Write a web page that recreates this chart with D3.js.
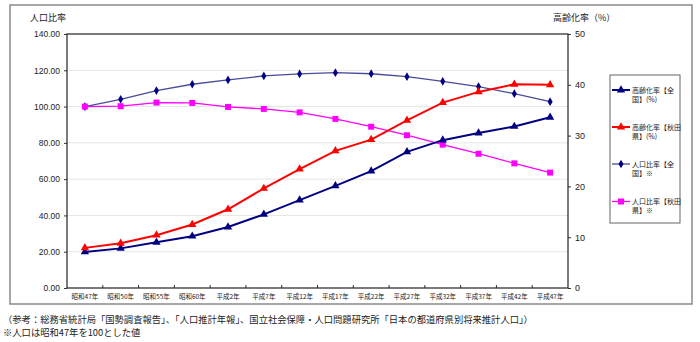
<!DOCTYPE html>
<html><head><meta charset="utf-8">
<script src="https://cdn.jsdelivr.net/npm/d3@7"></script>
<style>
body{margin:0;background:#fff;}
svg{display:block;font-family:"Liberation Sans","Noto Sans CJK JP",sans-serif;}
.jp{font-family:"Noto Sans CJK JP","Liberation Sans",sans-serif;}
</style></head>
<body><svg id="c" width="700" height="342"></svg>
<script>
const categories = ["昭和47年","昭和50年","昭和55年","昭和60年","平成2年","平成7年","平成12年","平成17年","平成22年","平成27年","平成32年","平成37年","平成42年","平成47年"];
const agingNational = [7.1,7.8,9.0,10.2,12.0,14.5,17.3,20.1,23.0,26.8,29.1,30.5,31.8,33.6];
const agingAkita = [7.9,8.8,10.4,12.5,15.5,19.6,23.4,27.0,29.2,33.0,36.5,38.6,40.1,40.0];
const popNational = [100,104.0,108.8,112.3,114.7,116.9,118.0,118.7,118.1,116.5,113.9,111.0,107.1,102.7];
const popAkita = [100,100.2,102.2,102.0,99.8,98.7,96.8,93.2,88.9,84.2,79.0,74.0,68.7,63.6];
const leftTicks = [0,20,40,60,80,100,120,140];
const rightTicks = [0,10,20,30,40,50];
const legendLabels = [["高齢化率【全","国】(%)"],["高齢化率【秋田","県】(%)"],["人口比率【全","国】※"],["人口比率【秋田","県】※"]];
const footnotes = ["（参考：総務省統計局「国勢調査報告」、「人口推計年報」、国立社会保障・人口問題研究所「日本の都道府県別将来推計人口」）","※人口は昭和47年を100とした値"];

const svg = d3.select("#c");
const L=67,R=568,T=34,B=288;
const x = d3.scaleBand().domain(categories).range([L,R]);
const yL = d3.scaleLinear().domain([0,140]).range([B,T]);
const yR = d3.scaleLinear().domain([0,50]).range([B,T]);
const cx = c => x(c)+x.bandwidth()/2;

// outer border
svg.append("rect").attr("x",10).attr("y",5).attr("width",682).attr("height",299)
  .attr("fill","none").attr("stroke","#8a8a8a").attr("stroke-width",1.5);

// gridlines
svg.append("g").selectAll("line").data(leftTicks.filter(d=>d>0&&d<140)).join("line")
  .attr("x1",L).attr("x2",R).attr("y1",d=>yL(d)).attr("y2",d=>yL(d))
  .attr("stroke","#e6e6e6").attr("stroke-width",1);

// axes
const axL = d3.axisLeft(yL).tickValues(leftTicks).tickFormat(d3.format(".2f")).tickSize(3).tickPadding(4);
const gL = svg.append("g").attr("transform",`translate(${L},0)`).call(axL);
const axR = d3.axisRight(yR).tickValues(rightTicks).tickFormat(d3.format("d")).tickSize(3).tickPadding(4);
const gR = svg.append("g").attr("transform",`translate(${R},0)`).call(axR);
const axB = d3.axisBottom(x).tickSize(0).tickPadding(6);
const gB = svg.append("g").attr("transform",`translate(0,${B})`).call(axB);
[gL,gR,gB].forEach(g=>{g.select(".domain").remove();g.selectAll("text").attr("fill","#222");g.selectAll("line").attr("stroke","#333");});
gL.selectAll("text").style("font-size","8.5px");
gR.selectAll("text").style("font-size","9px");
gB.selectAll("text").attr("class","jp").style("font-size","6.5px");
// bottom ticks at category boundaries
svg.append("g").selectAll("line").data(categories.slice(1)).join("line")
  .attr("x1",d=>x(d)).attr("x2",d=>x(d)).attr("y1",B).attr("y2",B-3).attr("stroke","#333");
// plot frame
svg.append("rect").attr("x",L).attr("y",T).attr("width",R-L).attr("height",B-T)
  .attr("fill","none").attr("stroke","#222").attr("stroke-width",1.2);

// titles
svg.append("text").attr("class","jp").attr("x",30).attr("y",21).style("font-size","9px").attr("fill","#222").text("人口比率");
svg.append("text").attr("class","jp").attr("x",553).attr("y",21).style("font-size","9px").attr("fill","#222").text("高齢化率（%）");

const series = [
 {vals:agingNational, y:yR, line:"#000080", mark:"#000080", w:2, shape:d3.symbolTriangle, size:30},
 {vals:agingAkita, y:yR, line:"#ff0000", mark:"#ff0000", w:2, shape:d3.symbolTriangle, size:30},
 {vals:popNational, y:yL, line:"#4a4a9a", mark:"#000080", w:1.3, shape:d3.symbolDiamond, size:22},
 {vals:popAkita, y:yL, line:"#ff00ff", mark:"#ff00ff", w:1.3, shape:d3.symbolSquare, size:36}
];
[2,3,0,1].forEach(i=>{
  const s=series[i];
  const data = categories.map((c,j)=>[cx(c),s.y(s.vals[j])]);
  svg.append("path").attr("d",d3.line()(data)).attr("fill","none").attr("stroke",s.line).attr("stroke-width",s.w);
  svg.append("g").selectAll("path").data(data).join("path")
    .attr("transform",d=>`translate(${d[0]},${d[1]})`)
    .attr("d",d3.symbol().type(s.shape).size(s.size)).attr("fill",s.mark);
});

// legend
svg.append("rect").attr("x",610).attr("y",75).attr("width",70).attr("height",148)
  .attr("fill","#fff").attr("stroke","#666").attr("stroke-width",1);
const ly=[90,127,164,201.5];
series.forEach((s,i)=>{
  const g=svg.append("g");
  g.append("line").attr("x1",612).attr("x2",630).attr("y1",ly[i]).attr("y2",ly[i]).attr("stroke",s.line).attr("stroke-width",s.w);
  g.append("path").attr("transform",`translate(621,${ly[i]})`).attr("d",d3.symbol().type(s.shape).size(s.size)).attr("fill",s.mark);
  legendLabels[i].forEach((t,k)=>{
    g.append("text").attr("class","jp").attr("x",632).attr("y",ly[i]+2.5+k*9).style("font-size","7px").attr("fill","#222").text(t);
  });
});

// footnotes
footnotes.forEach((t,i)=>{
  svg.append("text").attr("class","jp").attr("x",3).attr("y",323+i*12.5).style("font-size","9.3px").attr("fill","#222").text(t);
});
</script></body></html>
